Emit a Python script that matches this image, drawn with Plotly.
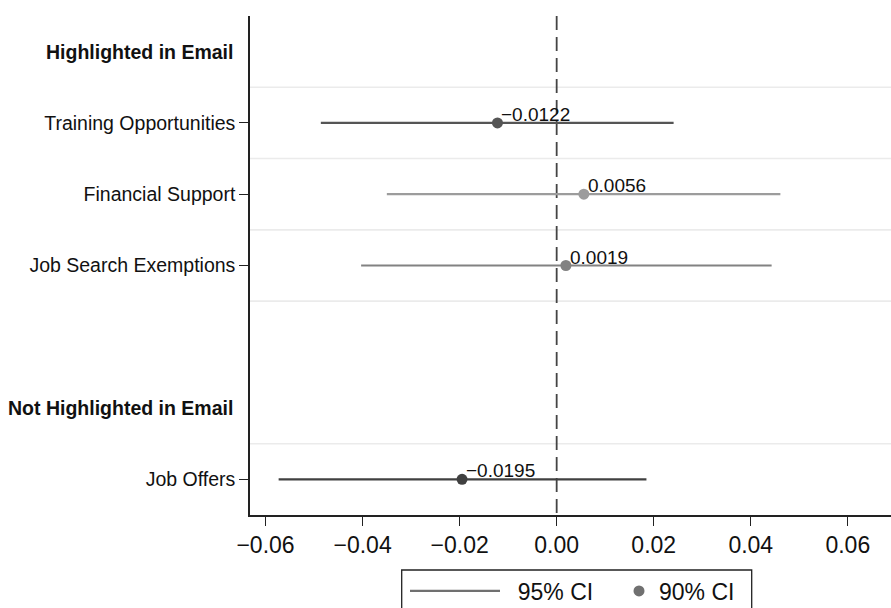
import plotly.graph_objects as go

# Coefficient estimates with 95% confidence bounds
labels = ["Training Opportunities", "Financial Support", "Job Search Exemptions", "Job Offers"]
estimates = [-0.0122, 0.0056, 0.0019, -0.0195]
ci_low = [-0.0486, -0.0350, -0.0403, -0.0573]
ci_high = [0.0241, 0.0461, 0.0443, 0.0185]
row_pos = [1, 2, 3, 6]
colors = ["#555555", "#9c9c9c", "#828282", "#404040"]

# Group headings and their rows
group_titles = ["Highlighted in Email", "Not Highlighted in Email"]
group_pos = [0, 5]

# Light separators between rows
separator_pos = [0.5, 1.5, 2.5, 3.5, 5.5]

x_ticks = [-0.06, -0.04, -0.02, 0.00, 0.02, 0.04, 0.06]

FONT = "Liberation Sans, Arial, Helvetica, sans-serif"
INK = "#111111"

fig = go.Figure()

for lab, est, lo, hi, y, c in zip(labels, estimates, ci_low, ci_high, row_pos, colors):
    fig.add_trace(go.Scatter(
        x=[lo, hi], y=[y, y], mode="lines",
        line=dict(color=c, width=2.2), showlegend=False, hoverinfo="skip",
    ))
    fig.add_trace(go.Scatter(
        x=[est], y=[y], mode="markers",
        marker=dict(color=c, size=11), showlegend=False, name=lab,
    ))
    fig.add_annotation(
        x=est, y=y, xref="x", yref="y",
        text=f"{est:.4f}".replace("-", "\u2212"),
        showarrow=False, xanchor="left", yanchor="bottom",
        xshift=2, yshift=-4,
        font=dict(family=FONT, size=19, color=INK),
    )

# Legend entries
fig.add_trace(go.Scatter(
    x=[None], y=[None], mode="lines", name="\u00a0\u00a095% CI",
    line=dict(color="#707070", width=2.2), legend="legend",
))
fig.add_trace(go.Scatter(
    x=[None], y=[None], mode="markers", name="90% CI",
    marker=dict(color="#707070", size=11), legend="legend2",
))

for t, y in zip(group_titles, group_pos):
    fig.add_annotation(
        x=0, y=y, xref="paper", yref="y", text=f"<b>{t}</b>",
        showarrow=False, xanchor="right", yanchor="middle", xshift=-15,
        font=dict(family=FONT, size=19.5, color=INK),
    )

for y in separator_pos:
    fig.add_shape(type="line", xref="paper", yref="y", x0=0, x1=1, y0=y, y1=y,
                  line=dict(color="#ebebeb", width=1.6), layer="below")

# Reference line at zero
fig.add_shape(type="line", xref="x", yref="paper", x0=0, x1=0, y0=1, y1=0,
              line=dict(color="#444444", width=1.8, dash="14px,7px"), layer="below")

# Legend frame
fig.add_shape(type="rect", xref="paper", yref="paper",
              x0=(401.7 - 250) / 641, x1=(751.7 - 250) / 641,
              y0=(515 - 570) / 499, y1=(515 - 640) / 499,
              line=dict(color="#222222", width=1.3), fillcolor="rgba(0,0,0,0)")

fig.update_layout(
    width=891, height=608,
    margin=dict(l=250, r=0, t=16, b=93, autoexpand=False),
    paper_bgcolor="white", plot_bgcolor="white",
    font=dict(family=FONT, color=INK),
    xaxis=dict(
        range=[-0.0632, 0.0689], tickvals=x_ticks, tickformat=".2f",
        showgrid=False, zeroline=False,
        showline=True, linecolor="#222222", linewidth=1.5,
        ticks="outside", ticklen=9, tickwidth=1.3, tickcolor="#222222",
        tickfont=dict(family=FONT, size=23, color=INK),
    ),
    yaxis=dict(
        range=[6.5, -0.5], tickvals=row_pos, ticktext=labels,
        showgrid=False, zeroline=False,
        showline=True, linecolor="#222222", linewidth=1.5,
        ticks="outside", ticklen=9, tickwidth=1.3, tickcolor="#222222",
        tickfont=dict(family=FONT, size=19.5, color=INK),
    ),
    legend=dict(
        orientation="h", itemwidth=90, x=(405 - 250) / 641, xanchor="left",
        y=(515 - 591) / 499, yanchor="middle",
        font=dict(family=FONT, size=23, color=INK),
        bgcolor="rgba(0,0,0,0)", borderwidth=0,
    ),
    legend2=dict(
        orientation="h", itemwidth=30, x=(619 - 250) / 641, xanchor="left",
        y=(515 - 591) / 499, yanchor="middle",
        font=dict(family=FONT, size=23, color=INK),
        bgcolor="rgba(0,0,0,0)", borderwidth=0,
    ),
)

fig.write_html("out.html")
